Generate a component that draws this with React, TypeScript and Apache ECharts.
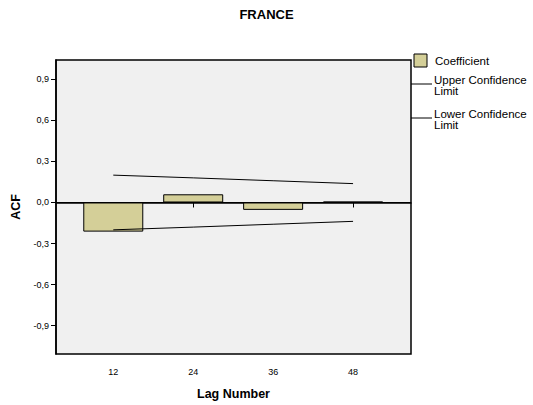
import React, { useEffect, useRef } from "react";
import * as echarts from "echarts";

const lags = [12, 24, 36, 48];
const coefficient = [-0.213, 0.06, -0.054, 0.006];
const upperLimit = [0.2, 0.18, 0.159, 0.138];
const lowerLimit = [-0.2, -0.18, -0.159, -0.138];
const yTicks = [-0.9, -0.6, -0.3, 0, 0.3, 0.6, 0.9];
const legendLabels = ["Coefficient", "Upper Confidence\nLimit", "Lower Confidence\nLimit"];

const FONT = "Liberation Sans, Arial, sans-serif";

export default function App() {
  const ref = useRef<HTMLDivElement>(null);
  useEffect(() => {
    if (!ref.current) return;
    const chart = echarts.init(ref.current, undefined, { renderer: "svg" });
    const fmt = (v: number) => v.toFixed(1).replace(".", ",");
    chart.setOption({
      animation: false,
      backgroundColor: "#ffffff",
      title: {
        text: "FRANCE",
        left: "center",
        top: 3,
        textStyle: { fontFamily: FONT, fontSize: 13, fontWeight: "bold", color: "#000" },
      },
      grid: {
        left: 56,
        top: 60,
        width: 355,
        height: 296,
        show: true,
        backgroundColor: "#f0f0f0",
        borderColor: "#000",
        borderWidth: 1.5,
      },
      xAxis: {
        type: "value",
        min: 3.4,
        max: 56.7,
        name: "Lag Number",
        nameLocation: "middle",
        nameGap: 33,
        nameTextStyle: { fontFamily: FONT, fontSize: 12.5, fontWeight: "bold", color: "#000" },
        axisLine: { show: true, lineStyle: { color: "#000", width: 1.5 } },
        axisTick: { show: true, customValues: lags, length: 5, lineStyle: { color: "#000" } },
        axisLabel: {
          customValues: lags,
          fontFamily: FONT,
          fontSize: 9,
          color: "#000",
          margin: 13,
        },
        splitLine: { show: false },
      },
      yAxis: {
        type: "value",
        min: -1.108,
        max: 1.042,
        name: "ACF",
        nameLocation: "middle",
        nameGap: 32,
        nameRotate: 90,
        nameTextStyle: { fontFamily: FONT, fontSize: 12.5, fontWeight: "bold", color: "#000" },
        axisLine: { show: true, lineStyle: { color: "#000", width: 1.5 } },
        axisTick: { show: true, customValues: yTicks, length: 5, lineStyle: { color: "#000" } },
        axisLabel: {
          customValues: yTicks,
          formatter: (v: number) => fmt(v),
          fontFamily: FONT,
          fontSize: 9,
          color: "#000",
          margin: 7,
        },
        splitLine: { show: false },
      },
      series: [
        {
          name: "Coefficient",
          type: "bar",
          data: lags.map((l, i) => [l, coefficient[i]]),
          barWidth: 60,
          itemStyle: { color: "#d4cf98", borderColor: "#000", borderWidth: 1 },
          markLine: {
            silent: true,
            symbol: "none",
            label: { show: false },
            lineStyle: { color: "#000", width: 1, type: "solid" },
            data: [{ yAxis: 0 }],
          },
          z: 2,
        },
        {
          name: "Upper Confidence Limit",
          type: "line",
          data: lags.map((l, i) => [l, upperLimit[i]]),
          symbol: "none",
          lineStyle: { color: "#000", width: 1 },
          z: 3,
        },
        {
          name: "Lower Confidence Limit",
          type: "line",
          data: lags.map((l, i) => [l, lowerLimit[i]]),
          symbol: "none",
          lineStyle: { color: "#000", width: 1 },
          z: 3,
        },
      ],
      graphic: [
        {
          type: "rect",
          shape: { x: 414, y: 54, width: 13, height: 13 },
          style: { fill: "#d4cf98", stroke: "#000", lineWidth: 1 },
        },
        {
          type: "text",
          x: 435,
          y: 61,
          style: { text: legendLabels[0], fontFamily: FONT, fontSize: 11.5, fill: "#000", textVerticalAlign: "middle" },
        },
        {
          type: "line",
          shape: { x1: 411, y1: 84, x2: 432, y2: 84 },
          style: { stroke: "#000", lineWidth: 1 },
        },
        {
          type: "text",
          x: 434,
          y: 75,
          style: { text: legendLabels[1], fontFamily: FONT, fontSize: 11.5, lineHeight: 10.5, fill: "#000" },
        },
        {
          type: "line",
          shape: { x1: 411, y1: 118, x2: 432, y2: 118 },
          style: { stroke: "#000", lineWidth: 1 },
        },
        {
          type: "text",
          x: 434,
          y: 109,
          style: { text: legendLabels[2], fontFamily: FONT, fontSize: 11.5, lineHeight: 10.5, fill: "#000" },
        },
      ],
    });
    return () => chart.dispose();
  }, []);
  return (
    <div
      ref={ref}
      style={{ position: "absolute", left: 0, top: 0, width: 533, height: 405 }}
    />
  );
}
